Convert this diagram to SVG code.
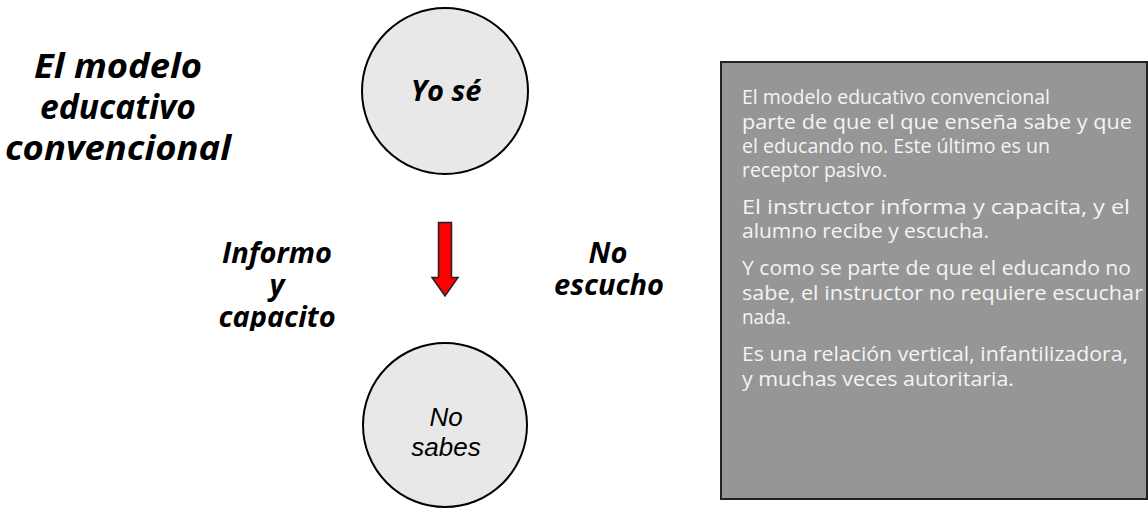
<svg xmlns="http://www.w3.org/2000/svg" width="1148" height="509" viewBox="0 0 1148 509">
<style>
.bi{font-family:"Open Sans","Noto Sans",sans-serif;font-weight:bold;font-style:italic;fill:#000;text-anchor:middle}
.node{fill:#e8e8e8;stroke:#000;stroke-width:2}
.it{font-family:"Liberation Sans",Arial,sans-serif;font-style:italic;fill:#000;text-anchor:middle;font-size:26px}
.bx{font-family:"Open Sans","Noto Sans",sans-serif;fill:#f4f4f4;font-size:20.5px}
</style>
<defs>
<clipPath id="lblclip"><rect x="150" y="200" width="250" height="131"/></clipPath>
</defs>
<rect width="1148" height="509" fill="#fff"/>
<g id="title">
<text class="bi" font-size="34" x="118" y="78" textLength="168" lengthAdjust="spacingAndGlyphs">El modelo</text>
<text class="bi" font-size="34" x="118" y="119" textLength="156" lengthAdjust="spacingAndGlyphs">educativo</text>
<text class="bi" font-size="34" x="118" y="160" textLength="226" lengthAdjust="spacingAndGlyphs">convencional</text>
</g>
<g id="node-yo-se">
<circle class="node" cx="445" cy="91" r="83"/>
<text class="bi" font-size="29" x="446" y="101">Yo sé</text>
</g>
<g id="node-no-sabes">
<circle class="node" cx="445" cy="425" r="82"/>
<text class="it" x="446" y="426">No</text>
<text class="it" x="446" y="456">sabes</text>
</g>
<g id="connectors">
<path d="M438.5,222.5 H451.5 V277.5 H458 L445,296 L432,277.5 H438.5 Z" fill="#ff0000" stroke="#222" stroke-width="1.5" stroke-linejoin="miter"/>
</g>
<g id="label-informo" clip-path="url(#lblclip)">
<text class="bi" font-size="29" x="277" y="263">Informo</text>
<text class="bi" font-size="29" x="277" y="295">y</text>
<text class="bi" font-size="29" x="277" y="327">capacito</text>
</g>
<g id="label-no-escucho">
<text class="bi" font-size="29" x="608" y="263">No</text>
<text class="bi" font-size="29" x="609" y="295">escucho</text>
</g>
<g id="text-box">
<rect x="721" y="62" width="426" height="437" fill="#969696" stroke="#222" stroke-width="2"/>
<text class="bx" lengthAdjust="spacingAndGlyphs">
<tspan x="742" y="104" textLength="308" lengthAdjust="spacingAndGlyphs">El modelo educativo convencional</tspan>
<tspan x="742" y="129" textLength="390" lengthAdjust="spacingAndGlyphs">parte de que el que enseña sabe y que</tspan>
<tspan x="742" y="153" textLength="308" lengthAdjust="spacingAndGlyphs">el educando no. Este último es un</tspan>
<tspan x="742" y="177" textLength="145" lengthAdjust="spacingAndGlyphs">receptor pasivo.</tspan>
<tspan x="742" y="214" textLength="388" lengthAdjust="spacingAndGlyphs">El instructor informa y capacita, y el</tspan>
<tspan x="742" y="238" textLength="247" lengthAdjust="spacingAndGlyphs">alumno recibe y escucha.</tspan>
<tspan x="742" y="275" textLength="389" lengthAdjust="spacingAndGlyphs">Y como se parte de que el educando no</tspan>
<tspan x="742" y="300" textLength="401" lengthAdjust="spacingAndGlyphs">sabe, el instructor no requiere escuchar</tspan>
<tspan x="742" y="324" textLength="49" lengthAdjust="spacingAndGlyphs">nada.</tspan>
<tspan x="742" y="361" textLength="386" lengthAdjust="spacingAndGlyphs">Es una relación vertical, infantilizadora,</tspan>
<tspan x="742" y="386" textLength="272" lengthAdjust="spacingAndGlyphs">y muchas veces autoritaria.</tspan>
</text>
</g>
</svg>
